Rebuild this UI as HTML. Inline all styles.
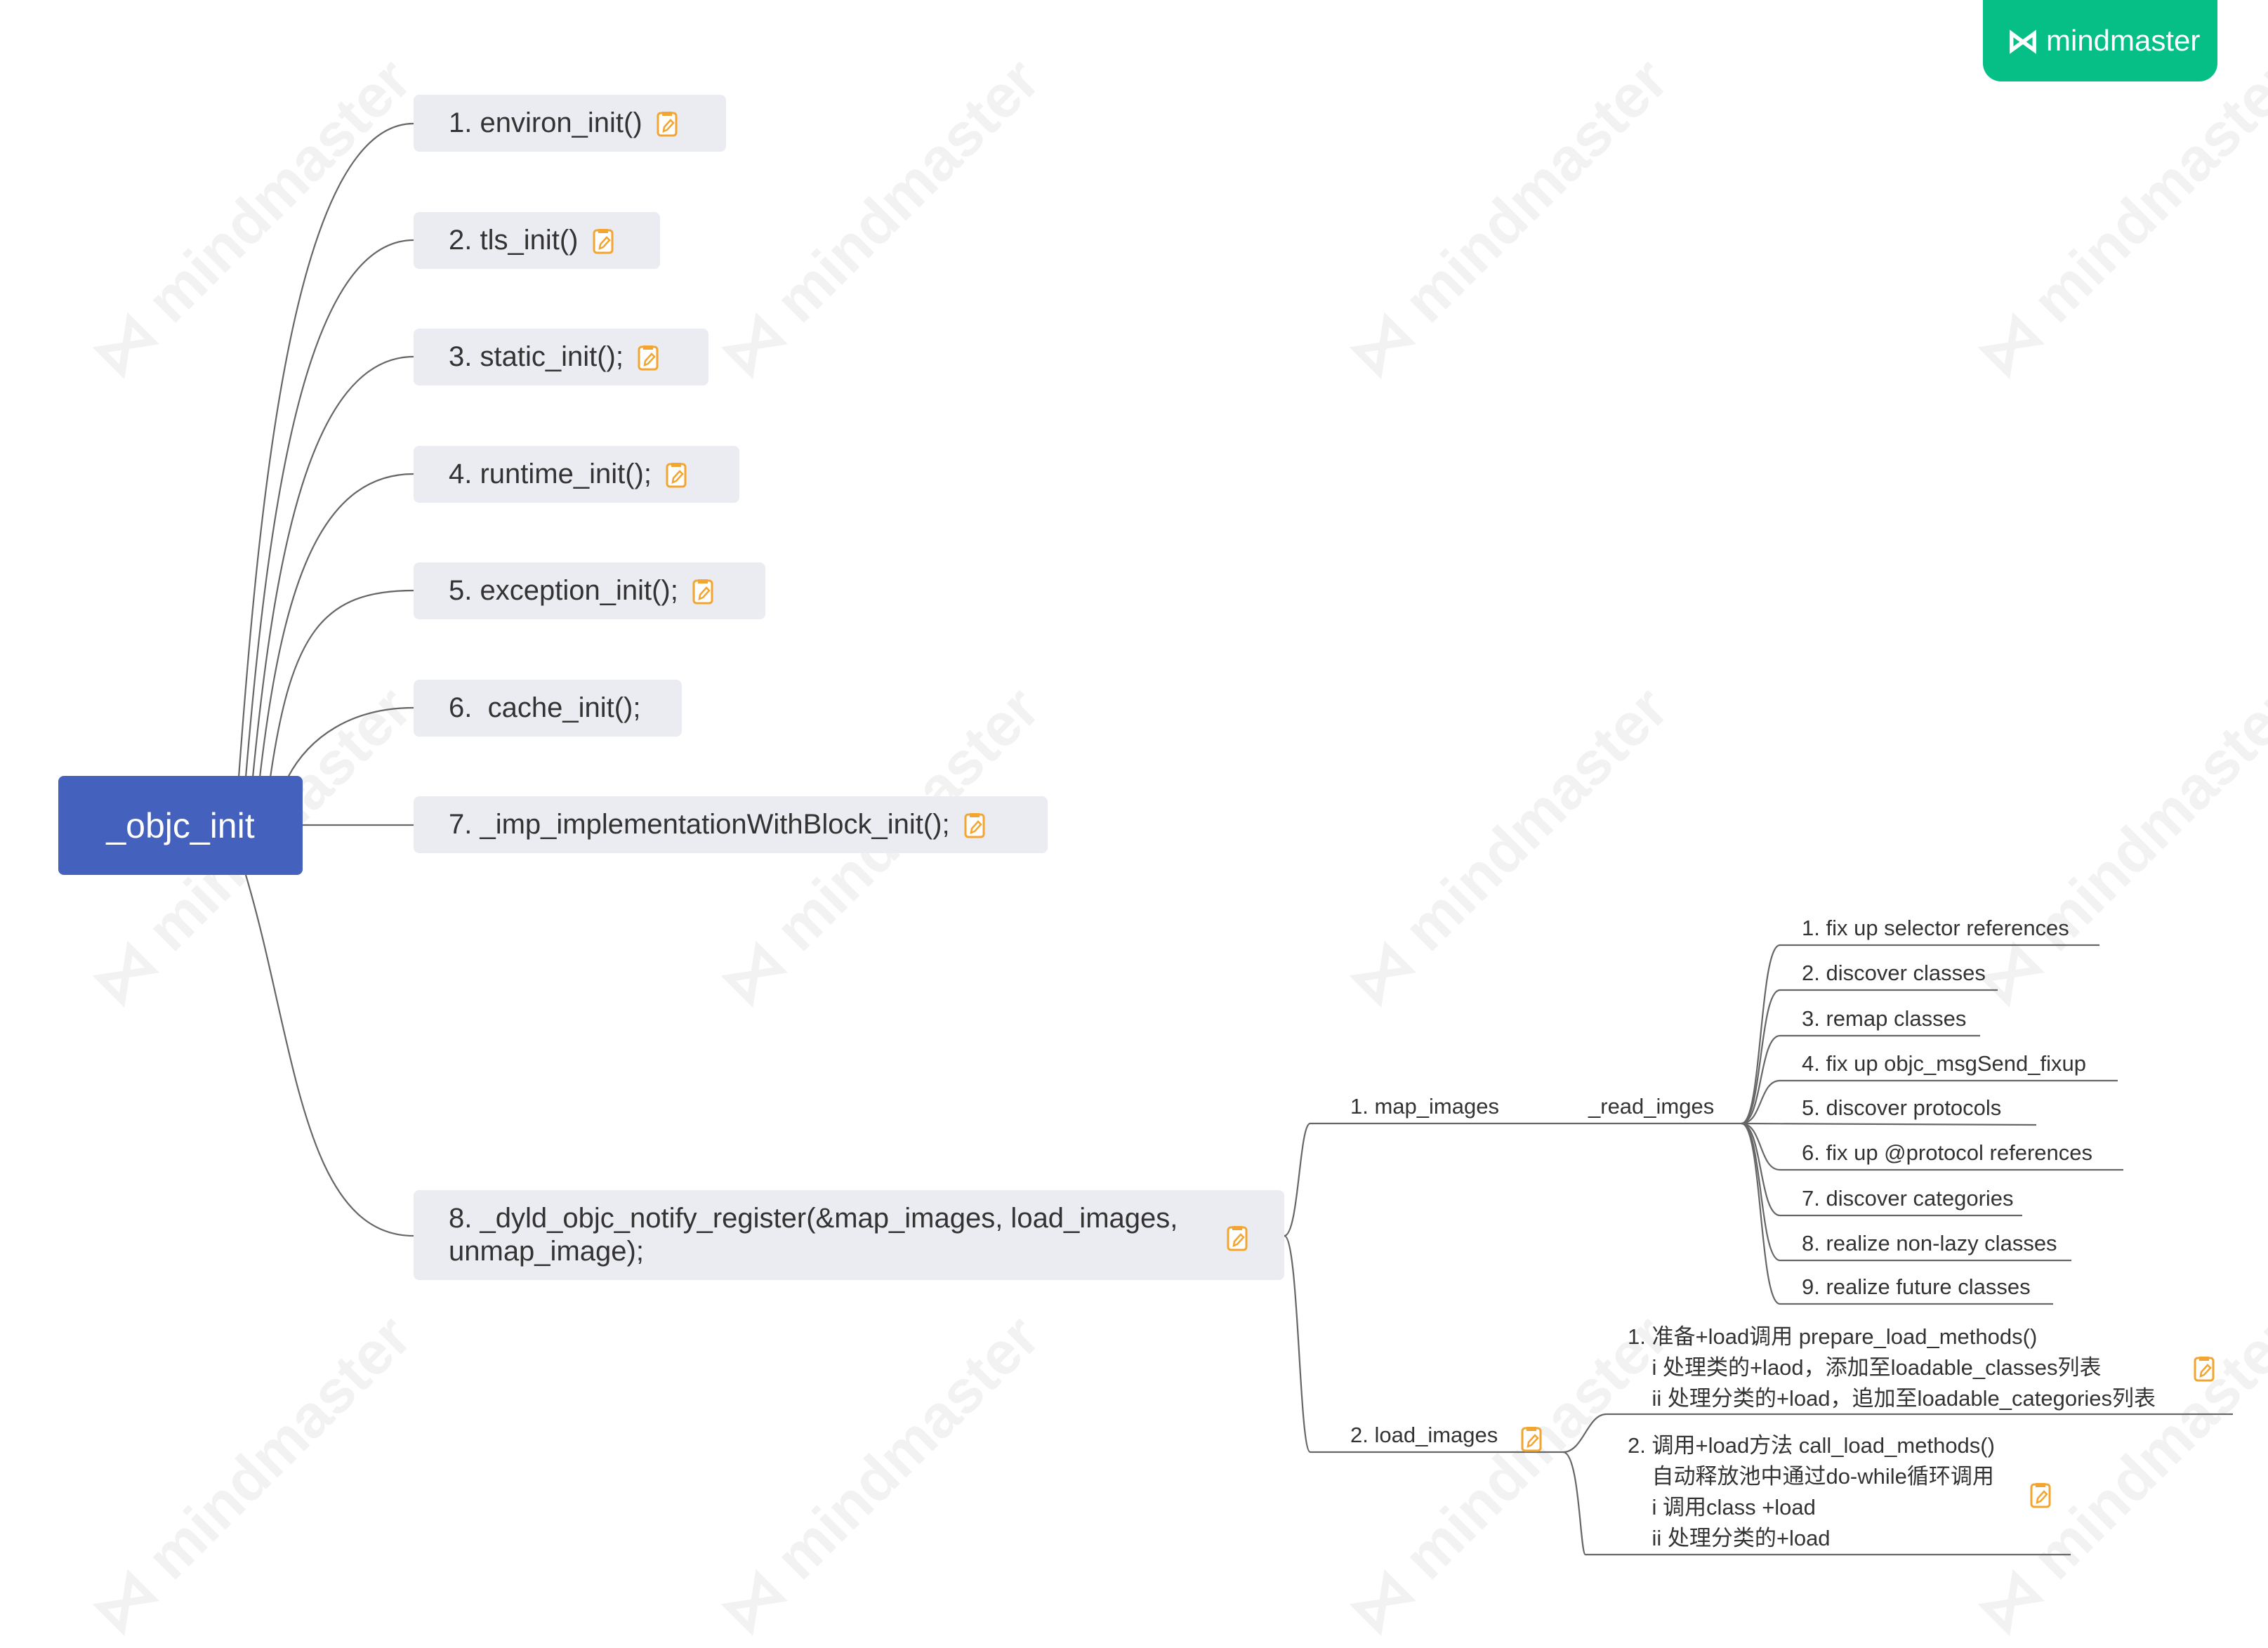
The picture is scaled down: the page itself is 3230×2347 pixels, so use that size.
<!DOCTYPE html>
<html><head><meta charset="utf-8"><style>
body{margin:0;width:3230px;height:2248px;background:#fff;position:relative;overflow:hidden;font-family:"Liberation Sans","Noto Sans CJK SC",sans-serif;color:#333}
.n{position:absolute;background:#ebebf2;border-radius:8px;font-size:40px;box-sizing:border-box;padding-left:50px;display:flex;align-items:center}
.t{position:absolute;font-size:31px;white-space:nowrap;color:#333}
.ic{display:inline-block;width:30px;height:38px;margin-left:20px;vertical-align:middle}
.wm{position:absolute;font-size:86px;font-weight:bold;color:#f2f2f2;transform:rotate(-45deg);white-space:nowrap}
</style></head><body>
<svg width="0" height="0" style="position:absolute"><defs><symbol id="e" viewBox="0 0 30 38"><rect x="2" y="4" width="26" height="32" rx="4" fill="#fff" stroke="#f2a530" stroke-width="3"/><rect x="8" y="2" width="14" height="6" fill="#f2a530"/><path d="M10 30 L11 24 L20 14 L24 18 L15 28 Z" fill="none" stroke="#f2a530" stroke-width="2.5"/></symbol></defs></svg>

<div class="wm" style="left:60px;top:260px">⋈ mindmaster</div>
<div class="wm" style="left:955px;top:260px">⋈ mindmaster</div>
<div class="wm" style="left:1850px;top:260px">⋈ mindmaster</div>
<div class="wm" style="left:2745px;top:260px">⋈ mindmaster</div>
<div class="wm" style="left:60px;top:1155px">⋈ mindmaster</div>
<div class="wm" style="left:955px;top:1155px">⋈ mindmaster</div>
<div class="wm" style="left:1850px;top:1155px">⋈ mindmaster</div>
<div class="wm" style="left:2745px;top:1155px">⋈ mindmaster</div>
<div class="wm" style="left:60px;top:2050px">⋈ mindmaster</div>
<div class="wm" style="left:955px;top:2050px">⋈ mindmaster</div>
<div class="wm" style="left:1850px;top:2050px">⋈ mindmaster</div>
<div class="wm" style="left:2745px;top:2050px">⋈ mindmaster</div>

<svg width="3230" height="2248" style="position:absolute;left:0;top:0" fill="none" stroke="#666" stroke-width="2.2">
<path d="M340 1107 C370 700 420 176 589 176"/>
<path d="M350 1107 C380 750 430 342 589 342"/>
<path d="M360 1107 C390 800 440 508 589 508"/>
<path d="M370 1107 C400 850 450 675 589 675"/>
<path d="M385 1107 C415 900 460 841 589 841"/>
<path d="M410 1107 C440 1050 500 1008 589 1008"/>
<path d="M431 1175 L589 1175"/>
<path d="M350 1246 C420 1480 430 1760 589 1760"/>
<path d="M1829 1760 C1850 1760 1850 1600 1866 1600 L2480 1600"/>
<path d="M1829 1760 C1850 1760 1850 2068 1866 2068 L2226 2068"/>
<path d="M2480 1600 C2510 1600 2505 1346 2535 1346 L2990 1346"/>
<path d="M2480 1600 C2510 1600 2505 1410 2535 1410 L2845 1410"/>
<path d="M2480 1600 C2510 1600 2505 1475 2535 1475 L2820 1475"/>
<path d="M2480 1600 C2510 1600 2505 1539 2535 1539 L3016 1539"/>
<path d="M2480 1600 L2900 1602"/>
<path d="M2480 1600 C2510 1600 2505 1666 2535 1666 L3024 1666"/>
<path d="M2480 1600 C2510 1600 2505 1731 2535 1731 L2880 1731"/>
<path d="M2480 1600 C2510 1600 2505 1795 2535 1795 L2950 1795"/>
<path d="M2480 1600 C2510 1600 2505 1857 2535 1857 L2924 1857"/>
<path d="M2226 2068 C2255 2068 2260 2014 2288 2014 L3180 2014"/>
<path d="M2226 2068 C2250 2068 2250 2214 2258 2214 L2949 2214"/>
</svg>

<div style="position:absolute;left:2824px;top:0;width:334px;height:116px;background:#05bf87;border-radius:0 0 26px 26px;color:#fff;font-size:42px;display:flex;align-items:center">
<span style="font-size:46px;font-weight:bold;margin-left:34px;margin-right:10px">⋈</span>mindmaster</div>

<div style="position:absolute;left:83px;top:1105px;width:348px;height:141px;background:#4361bd;border-radius:8px;color:#fff;font-size:50px;display:flex;align-items:center;justify-content:center">_objc_init</div>

<div class="n" style="left:589px;top:135px;width:445px;height:81px">1. environ_init()<svg class="ic"><use href="#e"/></svg></div>
<div class="n" style="left:589px;top:302px;width:351px;height:81px">2. tls_init()<svg class="ic"><use href="#e"/></svg></div>
<div class="n" style="left:589px;top:468px;width:420px;height:81px">3. static_init();<svg class="ic"><use href="#e"/></svg></div>
<div class="n" style="left:589px;top:635px;width:464px;height:81px">4. runtime_init();<svg class="ic"><use href="#e"/></svg></div>
<div class="n" style="left:589px;top:801px;width:501px;height:81px">5. exception_init();<svg class="ic"><use href="#e"/></svg></div>
<div class="n" style="left:589px;top:968px;width:382px;height:81px">6.&nbsp; cache_init();</div>
<div class="n" style="left:589px;top:1134px;width:903px;height:81px">7. _imp_implementationWithBlock_init();<svg class="ic"><use href="#e"/></svg></div>
<div class="n" style="left:589px;top:1695px;width:1240px;height:128px;line-height:47px">8. _dyld_objc_notify_register(&amp;map_images, load_images,<br>unmap_image);</div>
<svg style="position:absolute;left:1747px;top:1744px;width:30px;height:38px"><use href="#e"/></svg>

<div class="t" style="left:1923px;top:1558px">1. map_images</div>
<div class="t" style="left:2262px;top:1558px">_read_imges</div>
<div class="t" style="left:2566px;top:1304px">1. fix up selector references</div>
<div class="t" style="left:2566px;top:1368px">2. discover classes</div>
<div class="t" style="left:2566px;top:1433px">3. remap classes</div>
<div class="t" style="left:2566px;top:1497px">4. fix up objc_msgSend_fixup</div>
<div class="t" style="left:2566px;top:1560px">5. discover protocols</div>
<div class="t" style="left:2566px;top:1624px">6. fix up @protocol references</div>
<div class="t" style="left:2566px;top:1689px">7. discover categories</div>
<div class="t" style="left:2566px;top:1753px">8. realize non-lazy classes</div>
<div class="t" style="left:2566px;top:1815px">9. realize future classes</div>

<div class="t" style="left:1923px;top:2026px">2. load_images</div>
<svg style="position:absolute;left:2166px;top:2030px;width:30px;height:38px"><use href="#e"/></svg>

<div class="t" style="left:2318px;top:1882px;line-height:44px">1. 准备+load调用 prepare_load_methods()<br>&nbsp;&nbsp;&nbsp; i 处理类的+laod，添加至loadable_classes列表<br>&nbsp;&nbsp;&nbsp; ii 处理分类的+load，追加至loadable_categories列表</div>
<svg style="position:absolute;left:3124px;top:1930px;width:30px;height:38px"><use href="#e"/></svg>

<div class="t" style="left:2318px;top:2037px;line-height:44px">2. 调用+load方法 call_load_methods()<br>&nbsp;&nbsp;&nbsp; 自动释放池中通过do-while循环调用<br>&nbsp;&nbsp;&nbsp; i 调用class +load<br>&nbsp;&nbsp;&nbsp; ii 处理分类的+load</div>
<svg style="position:absolute;left:2891px;top:2110px;width:30px;height:38px"><use href="#e"/></svg>
</body></html>
